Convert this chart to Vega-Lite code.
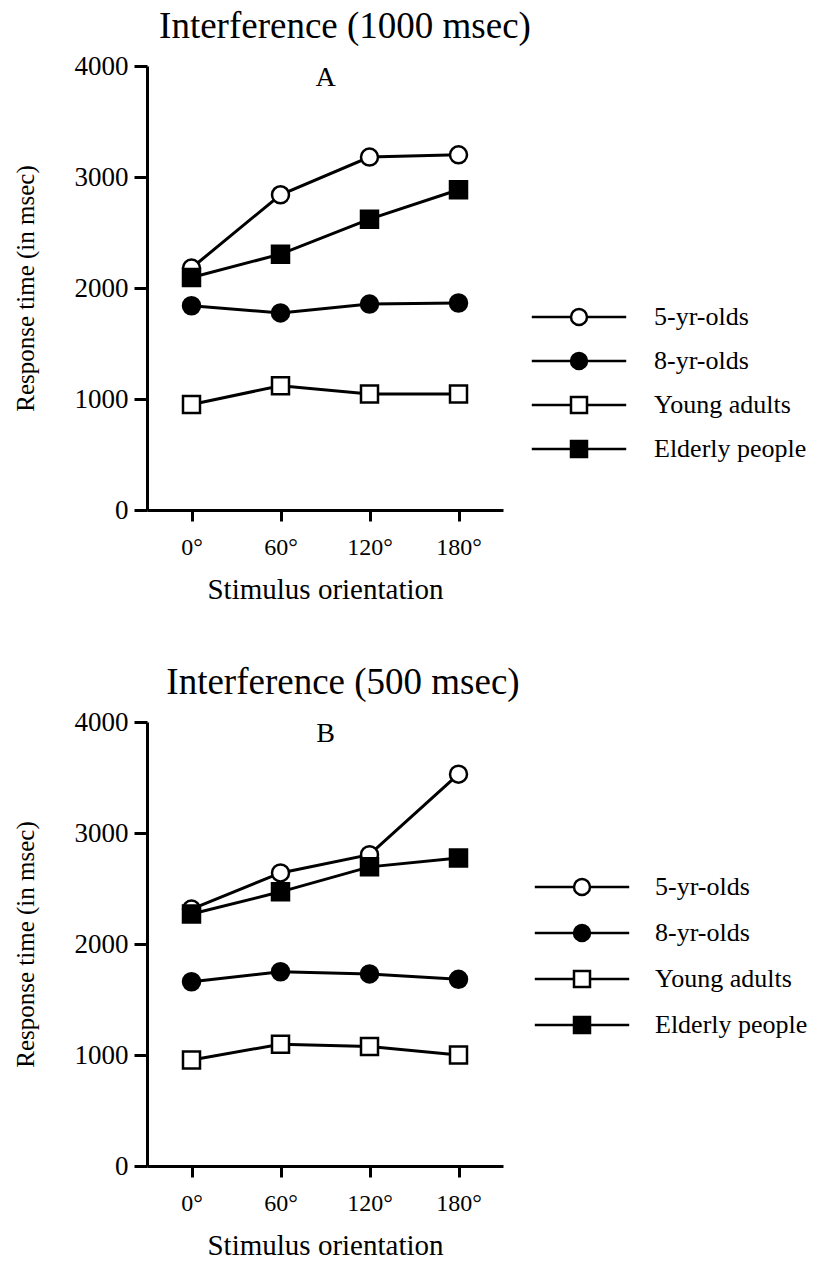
{
  "$schema": "https://vega.github.io/schema/vega-lite/v6.json",
  "background": "white",
  "padding": {"left": 13, "top": 8, "right": 0, "bottom": 0},
  "config": {
    "font": "Liberation Serif",
    "view": {"stroke": null},
    "axis": {
      "grid": false,
      "domainColor": "black", "domainWidth": 3,
      "tickColor": "black", "tickWidth": 3,
      "labelColor": "black", "labelFont": "Liberation Serif", "labelFontSize": 24,
      "titleColor": "black", "titleFont": "Liberation Serif", "titleFontSize": 29, "titleFontWeight": "normal"
    },
    "axisY": {"labelFontSize": 27, "titleFontSize": 25},
    "title": {"font": "Liberation Serif", "fontSize": 37, "fontWeight": "normal", "color": "black"},
    "legend": {"labelFont": "Liberation Serif", "labelFontSize": 26, "labelColor": "black"}
  },
  "datasets": {
    "a": [
      {"group": "5-yr-olds", "angle": "0°", "rt": 2180},
      {"group": "5-yr-olds", "angle": "60°", "rt": 2840},
      {"group": "5-yr-olds", "angle": "120°", "rt": 3180},
      {"group": "5-yr-olds", "angle": "180°", "rt": 3200},
      {"group": "8-yr-olds", "angle": "0°", "rt": 1840},
      {"group": "8-yr-olds", "angle": "60°", "rt": 1775},
      {"group": "8-yr-olds", "angle": "120°", "rt": 1855},
      {"group": "8-yr-olds", "angle": "180°", "rt": 1865},
      {"group": "Young adults", "angle": "0°", "rt": 950},
      {"group": "Young adults", "angle": "60°", "rt": 1120},
      {"group": "Young adults", "angle": "120°", "rt": 1045},
      {"group": "Young adults", "angle": "180°", "rt": 1045},
      {"group": "Elderly people", "angle": "0°", "rt": 2095},
      {"group": "Elderly people", "angle": "60°", "rt": 2305},
      {"group": "Elderly people", "angle": "120°", "rt": 2620},
      {"group": "Elderly people", "angle": "180°", "rt": 2885}
    ],
    "b": [
      {"group": "5-yr-olds", "angle": "0°", "rt": 2315},
      {"group": "5-yr-olds", "angle": "60°", "rt": 2640},
      {"group": "5-yr-olds", "angle": "120°", "rt": 2805},
      {"group": "5-yr-olds", "angle": "180°", "rt": 3530},
      {"group": "8-yr-olds", "angle": "0°", "rt": 1660},
      {"group": "8-yr-olds", "angle": "60°", "rt": 1750},
      {"group": "8-yr-olds", "angle": "120°", "rt": 1730},
      {"group": "8-yr-olds", "angle": "180°", "rt": 1682},
      {"group": "Young adults", "angle": "0°", "rt": 955},
      {"group": "Young adults", "angle": "60°", "rt": 1097},
      {"group": "Young adults", "angle": "120°", "rt": 1076},
      {"group": "Young adults", "angle": "180°", "rt": 1000},
      {"group": "Elderly people", "angle": "0°", "rt": 2270},
      {"group": "Elderly people", "angle": "60°", "rt": 2470},
      {"group": "Elderly people", "angle": "120°", "rt": 2695},
      {"group": "Elderly people", "angle": "180°", "rt": 2775}
    ]
  },
  "spacing": 60,
  "resolve": {
    "scale": {"shape": "independent", "fill": "independent"},
    "legend": {"shape": "independent", "fill": "independent"}
  },
  "vconcat": [
    {
      "title": {"text": "Interference (1000 msec)", "anchor": "middle", "dx": 20, "offset": 6},
      "width": 356,
      "height": 444,
      "data": {"name": "a"},
      "resolve": {
        "scale": {"shape": "independent", "fill": "independent"},
        "legend": {"shape": "independent", "fill": "independent"},
        "axis": {"x": "independent"}
      },
      "layer": [
        {
          "mark": {"type": "line", "color": "black", "strokeWidth": 3},
          "encoding": {
            "x": {"field": "angle", "type": "ordinal", "sort": ["0°", "60°", "120°", "180°"],
                  "scale": {"type": "point", "padding": 0.5},
                  "axis": {"orient": "bottom", "title": "Stimulus orientation", "labelAngle": 0, "tickSize": 11, "labelPadding": 14, "titlePadding": 16}},
            "y": {"field": "rt", "type": "quantitative", "scale": {"domain": [0, 4000], "nice": false},
                  "axis": {"title": "Response time (in msec)", "values": [0, 1000, 2000, 3000, 4000], "format": "d", "tickSize": 13, "labelPadding": 6, "titlePadding": 36}},
            "detail": {"field": "group", "type": "nominal"}
          }
        },
        {
          "mark": {"type": "point", "filled": true, "stroke": "black", "strokeWidth": 2.5, "size": 289, "opacity": 1},
          "encoding": {
            "x": {"field": "angle", "type": "ordinal", "sort": ["0°", "60°", "120°", "180°"],
                  "axis": {"orient": "top", "title": "A", "domain": false, "ticks": false, "labels": false, "titlePadding": -25, "titleFontSize": 28}},
            "y": {"field": "rt", "type": "quantitative"},
            "shape": {"field": "group", "type": "nominal",
                      "scale": {"domain": ["5-yr-olds", "8-yr-olds", "Young adults", "Elderly people"], "range": ["circle", "circle", "square", "square"]},
                      "legend": null},
            "fill": {"field": "group", "type": "nominal",
                     "scale": {"domain": ["5-yr-olds", "8-yr-olds", "Young adults", "Elderly people"], "range": ["white", "black", "white", "black"]},
                     "legend": null}
          }
        },
        {
          "mark": {"type": "point", "filled": true, "stroke": "black", "strokeWidth": 2.5, "opacity": 0},
          "encoding": {
            "x": {"field": "angle", "type": "ordinal", "sort": ["0°", "60°", "120°", "180°"], "axis": null},
            "y": {"field": "rt", "type": "quantitative"},
            "shape": {"field": "group", "type": "nominal",
                      "scale": {"domain": ["5-yr-olds", "8-yr-olds", "Young adults", "Elderly people"],
                                "range": ["M-5.9,0H-1A1,1,0,1,1,1,0A1,1,0,1,1,-1,0ZM1,0H5.9", "M-5.9,0H-1A1,1,0,1,1,1,0A1,1,0,1,1,-1,0ZM1,0H5.9", "M-5.9,0H-1M1,0H5.9M-1,-1H1V1H-1Z", "M-5.9,0H-1M1,0H5.9M-1,-1H1V1H-1Z"]},
                      "legend": {"orient": "none", "legendX": 419, "legendY": 238, "title": null, "padding": 0,
                                 "symbolSize": 256, "symbolStrokeWidth": 2.5, "symbolOpacity": 1,
                                 "labelOffset": 62, "rowPadding": 18}},
            "fill": {"field": "group", "type": "nominal",
                     "scale": {"domain": ["5-yr-olds", "8-yr-olds", "Young adults", "Elderly people"], "range": ["white", "black", "white", "black"]},
                     "legend": {"orient": "none", "legendX": 419, "legendY": 238, "title": null, "padding": 0,
                                "symbolSize": 256, "symbolStrokeWidth": 2.5, "symbolOpacity": 1,
                                "labelOffset": 62, "rowPadding": 18}}
          }
        }
      ]
    },
    {
      "title": {"text": "Interference (500 msec)", "anchor": "middle", "dx": 18, "offset": 6},
      "width": 356,
      "height": 444,
      "data": {"name": "b"},
      "resolve": {
        "scale": {"shape": "independent", "fill": "independent"},
        "legend": {"shape": "independent", "fill": "independent"},
        "axis": {"x": "independent"}
      },
      "layer": [
        {
          "mark": {"type": "line", "color": "black", "strokeWidth": 3},
          "encoding": {
            "x": {"field": "angle", "type": "ordinal", "sort": ["0°", "60°", "120°", "180°"],
                  "scale": {"type": "point", "padding": 0.5},
                  "axis": {"orient": "bottom", "title": "Stimulus orientation", "labelAngle": 0, "tickSize": 11, "labelPadding": 14, "titlePadding": 16}},
            "y": {"field": "rt", "type": "quantitative", "scale": {"domain": [0, 4000], "nice": false},
                  "axis": {"title": "Response time (in msec)", "values": [0, 1000, 2000, 3000, 4000], "format": "d", "tickSize": 13, "labelPadding": 6, "titlePadding": 36}},
            "detail": {"field": "group", "type": "nominal"}
          }
        },
        {
          "mark": {"type": "point", "filled": true, "stroke": "black", "strokeWidth": 2.5, "size": 289, "opacity": 1},
          "encoding": {
            "x": {"field": "angle", "type": "ordinal", "sort": ["0°", "60°", "120°", "180°"],
                  "axis": {"orient": "top", "title": "B", "domain": false, "ticks": false, "labels": false, "titlePadding": -25, "titleFontSize": 28}},
            "y": {"field": "rt", "type": "quantitative"},
            "shape": {"field": "group", "type": "nominal",
                      "scale": {"domain": ["5-yr-olds", "8-yr-olds", "Young adults", "Elderly people"], "range": ["circle", "circle", "square", "square"]},
                      "legend": null},
            "fill": {"field": "group", "type": "nominal",
                     "scale": {"domain": ["5-yr-olds", "8-yr-olds", "Young adults", "Elderly people"], "range": ["white", "black", "white", "black"]},
                     "legend": null}
          }
        },
        {
          "mark": {"type": "point", "filled": true, "stroke": "black", "strokeWidth": 2.5, "opacity": 0},
          "encoding": {
            "x": {"field": "angle", "type": "ordinal", "sort": ["0°", "60°", "120°", "180°"], "axis": null},
            "y": {"field": "rt", "type": "quantitative"},
            "shape": {"field": "group", "type": "nominal",
                      "scale": {"domain": ["5-yr-olds", "8-yr-olds", "Young adults", "Elderly people"],
                                "range": ["M-5.9,0H-1A1,1,0,1,1,1,0A1,1,0,1,1,-1,0ZM1,0H5.9", "M-5.9,0H-1A1,1,0,1,1,1,0A1,1,0,1,1,-1,0ZM1,0H5.9", "M-5.9,0H-1M1,0H5.9M-1,-1H1V1H-1Z", "M-5.9,0H-1M1,0H5.9M-1,-1H1V1H-1Z"]},
                      "legend": {"orient": "none", "legendX": 422, "legendY": 152, "title": null, "padding": 0,
                                 "symbolSize": 256, "symbolStrokeWidth": 2.5, "symbolOpacity": 1,
                                 "labelOffset": 60, "rowPadding": 20}},
            "fill": {"field": "group", "type": "nominal",
                     "scale": {"domain": ["5-yr-olds", "8-yr-olds", "Young adults", "Elderly people"], "range": ["white", "black", "white", "black"]},
                     "legend": {"orient": "none", "legendX": 422, "legendY": 152, "title": null, "padding": 0,
                                "symbolSize": 256, "symbolStrokeWidth": 2.5, "symbolOpacity": 1,
                                "labelOffset": 60, "rowPadding": 20}}
          }
        }
      ]
    }
  ]
}
